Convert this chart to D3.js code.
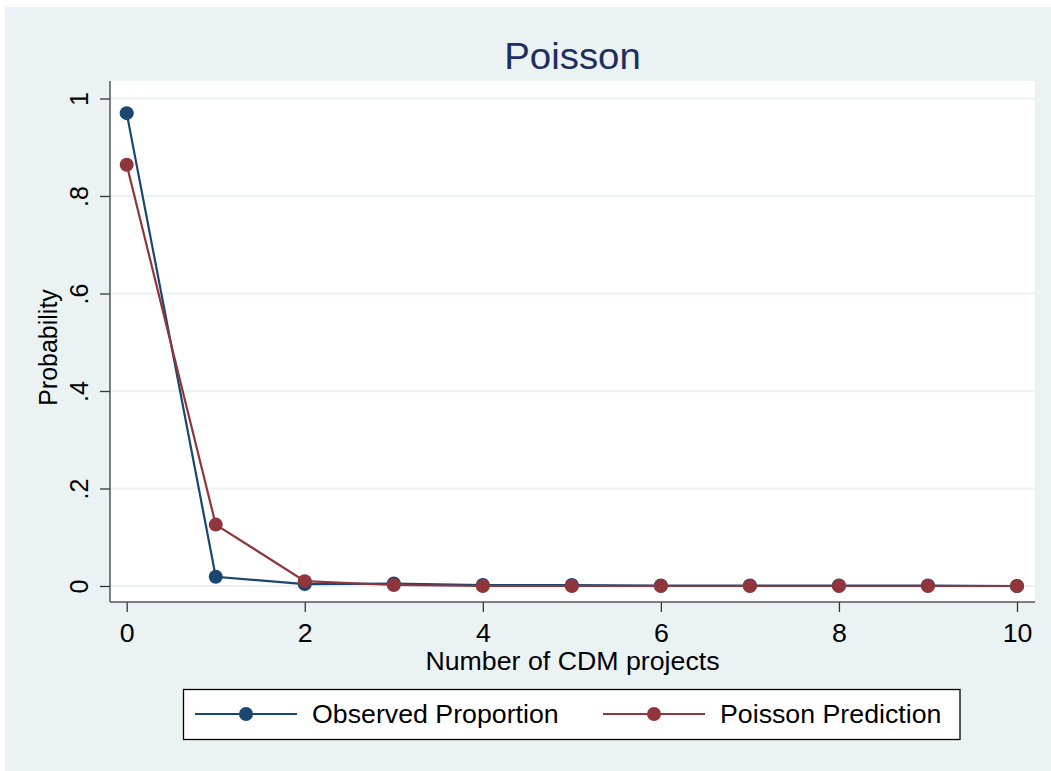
<!DOCTYPE html>
<html>
<head>
<meta charset="utf-8">
<script src="https://cdn.jsdelivr.net/npm/d3@7"></script>
<style>
  html, body { margin: 0; padding: 0; background: #ffffff; }
  svg { display: block; font-family: "Liberation Sans", Arial, sans-serif; }
</style>
</head>
<body>
<svg id="chart" width="1051" height="771"></svg>
<script>
// Number of CDM projects (x) and the two probability series
const counts = [0, 1, 2, 3, 4, 5, 6, 7, 8, 9, 10];
const observed = [0.970, 0.019, 0.004, 0.005, 0.002, 0.002, 0.001, 0.001, 0.001, 0.001, 0.000];
const poisson  = [0.864, 0.126, 0.010, 0.002, 0.000, 0.000, 0.000, 0.000, 0.000, 0.000, 0.000];
const xTicks = [0, 2, 4, 6, 8, 10];
const yTicks = [0, 0.2, 0.4, 0.6, 0.8, 1];
const yTickLabels = ["0", ".2", ".4", ".6", ".8", "1"];
const seriesNames = ["Observed Proportion", "Poisson Prediction"];

const colors = { observed: "#1a476f", poisson: "#90353b" };
const WIDE = 1.07; // horizontal stretch of the horizontal text
const svg = d3.select("#chart");

// outer graph region
svg.append("rect").attr("x", 5).attr("y", 7).attr("width", 1046).attr("height", 764)
  .attr("fill", "#eaf2f3");

// plot region
const plot = { left: 110, right: 1035, top: 81, bottom: 602 };
svg.append("rect").attr("x", plot.left).attr("y", plot.top)
  .attr("width", plot.right - plot.left).attr("height", plot.bottom - plot.top)
  .attr("fill", "#ffffff");

const x = d3.scaleLinear().domain([0, 10]).range([126.7, 1017]);
const y = d3.scaleLinear().domain([0, 1]).range([586, 98.5]);

// horizontal grid lines
svg.append("g").selectAll("line").data(yTicks).join("line")
  .attr("x1", plot.left).attr("x2", plot.right)
  .attr("y1", d => y(d)).attr("y2", d => y(d))
  .attr("stroke", "#eaf2f3").attr("stroke-width", 2);

// y axis
const yAxis = svg.append("g").attr("transform", `translate(${plot.left},0)`)
  .call(d3.axisLeft(y).tickValues(yTicks).tickSize(10).tickSizeOuter(0).tickFormat((d, i) => yTickLabels[i]));
yAxis.select(".domain").remove();
yAxis.append("line").attr("x1", 0).attr("x2", 0).attr("y1", plot.top).attr("y2", plot.bottom)
  .attr("stroke", "#555").attr("stroke-width", 1.5);
yAxis.selectAll(".tick line").attr("stroke", "#333").attr("stroke-width", 1.3);
yAxis.selectAll(".tick text")
  .attr("x", null).attr("dy", null)
  .attr("transform", "translate(-22,0) rotate(-90)")
  .attr("text-anchor", "middle")
  .attr("font-size", 25).attr("fill", "#000")
  .attr("font-family", "Liberation Sans, Arial, sans-serif");

// x axis
const xAxis = svg.append("g").attr("transform", `translate(0,${plot.bottom})`)
  .call(d3.axisBottom(x).tickValues(xTicks).tickSize(10).tickSizeOuter(0).tickFormat(d3.format("d")));
xAxis.select(".domain").remove();
xAxis.append("line").attr("x1", plot.left).attr("x2", plot.right).attr("y1", 0).attr("y2", 0)
  .attr("stroke", "#555").attr("stroke-width", 1.5);
xAxis.selectAll(".tick line").attr("stroke", "#333").attr("stroke-width", 1.3);
xAxis.selectAll(".tick text")
  .attr("y", null).attr("dy", null)
  .attr("transform", `translate(0,40) scale(${WIDE},1)`)
  .attr("font-size", 25).attr("fill", "#000")
  .attr("font-family", "Liberation Sans, Arial, sans-serif");

// axis titles
svg.append("text")
  .attr("transform", `translate(${(plot.left + plot.right) / 2},670) scale(${WIDE},1)`)
  .attr("text-anchor", "middle").attr("font-size", 25).attr("fill", "#000")
  .text("Number of CDM projects");
svg.append("text").attr("transform", `translate(57,${(plot.top + plot.bottom) / 2 + 6}) rotate(-90)`)
  .attr("text-anchor", "middle").attr("font-size", 25).attr("fill", "#000")
  .text("Probability");

// title
svg.append("text")
  .attr("transform", `translate(${(plot.left + plot.right) / 2},69) scale(${WIDE * 0.97},1)`)
  .attr("text-anchor", "middle").attr("font-size", 37).attr("fill", "#1e2f5e")
  .text("Poisson");

// series
const line = d3.line().x((d, i) => x(counts[i])).y(d => y(d));
const series = [
  { values: observed, color: colors.observed },
  { values: poisson, color: colors.poisson }
];
series.forEach(s => {
  const g = svg.append("g");
  g.append("path").datum(s.values).attr("d", line)
    .attr("fill", "none").attr("stroke", s.color).attr("stroke-width", 2.2);
  g.selectAll("circle").data(s.values).join("circle")
    .attr("cx", (d, i) => x(counts[i])).attr("cy", d => y(d)).attr("r", 7)
    .attr("fill", s.color);
});

// legend
svg.append("rect").attr("x", 183.5).attr("y", 689.5).attr("width", 776.5).attr("height", 50)
  .attr("fill", "#ffffff").attr("stroke", "#000").attr("stroke-width", 1.3);
const legendItems = [
  { name: seriesNames[0], color: colors.observed, x0: 195 },
  { name: seriesNames[1], color: colors.poisson, x0: 603 }
];
legendItems.forEach(it => {
  const g = svg.append("g");
  g.append("line").attr("x1", it.x0).attr("x2", it.x0 + 102).attr("y1", 714).attr("y2", 714)
    .attr("stroke", it.color).attr("stroke-width", 2.2);
  g.append("circle").attr("cx", it.x0 + 51).attr("cy", 714).attr("r", 7).attr("fill", it.color);
  g.append("text")
    .attr("transform", `translate(${it.x0 + 117},723) scale(${WIDE},1)`)
    .attr("font-size", 25).attr("fill", "#000")
    .text(it.name);
});
</script>
</body>
</html>
